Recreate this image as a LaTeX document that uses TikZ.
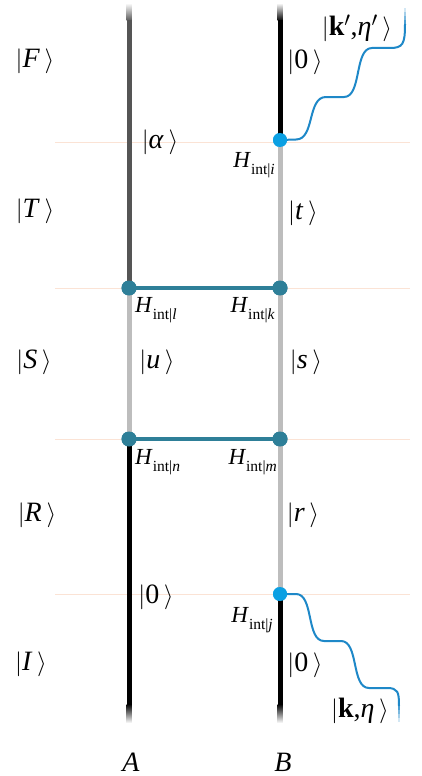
\documentclass[tikz,border=0pt]{standalone}
\usepackage{fontspec}
\setmainfont{Liberation Serif}
\newcommand{\myket}[1]{$|$#1\,$\rangle$}
\newcommand{\myH}[1]{\textit{H}\raisebox{-6.5pt}{\fontsize{15.5}{17}\selectfont int|\textit{#1}}}
\definecolor{teal2}{HTML}{2E7F98}
\definecolor{dotblue}{HTML}{0BA0E3}
\definecolor{wave}{HTML}{1E88C8}
\definecolor{guide}{HTML}{FBE3D5}
\definecolor{darkg}{HTML}{555555}
\definecolor{lightg}{HTML}{BDBDBD}
\begin{document}
\begin{tikzpicture}[x=1pt,y=-1pt,
  ket/.style={inner sep=0pt,font=\fontsize{28}{32}\selectfont},
  hlab/.style={inner sep=0pt,font=\fontsize{23}{26}\selectfont},
  seg/.style={line width=5pt},
  link/.style={line width=3.5pt,draw=teal2},
  tdot/.style={circle,fill=teal2,inner sep=0pt,minimum size=15pt},
  bdot/.style={circle,fill=dotblue,inner sep=0pt,minimum size=14pt},
  wavy/.style={line width=2pt,draw=wave},
  guideline/.style={line width=1pt,draw=guide}]
\useasboundingbox[fill=white] (0,0) rectangle (422,776);
% guide lines
\foreach \yy in {142,288,439,594}{\draw[guideline] (55,\yy) -- (410,\yy);}
% coordinates
\coordinate (Atop) at (129,20);
\coordinate (Abot) at (129,705);
\coordinate (Btop) at (280,20);
\coordinate (Bbot) at (280,705);
\node[tdot] (dAl) at (129,288) {};
\node[tdot] (dBk) at (280,288) {};
\node[tdot] (dAn) at (129,439) {};
\node[tdot] (dBm) at (280,439) {};
\node[bdot] (dBi) at (280,140) {};
\node[bdot] (dBj) at (280,594) {};
% fades at ends
\shade[top color=white,bottom color=darkg] (126.5,3) rectangle (131.5,21);
\shade[top color=white,bottom color=black] (277.5,3) rectangle (282.5,21);
\shade[top color=black,bottom color=white] (126.5,704) rectangle (131.5,723);
\shade[top color=black,bottom color=white] (277.5,704) rectangle (282.5,723);
% vertical lines
\draw[seg,darkg] (Atop) -- (dAl.center);
\draw[seg,lightg] (dAl.center) -- (dAn.center);
\draw[seg,black] (dAn.center) -- (Abot);
\draw[seg,black] (Btop) -- (dBi.center);
\draw[seg,lightg] (dBi.center) -- (dBj.center);
\draw[seg,black] (dBj.center) -- (Bbot);
% links
\draw[link] (dAl.center) -- (dBk.center);
\draw[link] (dAn.center) -- (dBm.center);
\node[tdot] at (dAl) {};
\node[tdot] at (dBk) {};
\node[tdot] at (dAn) {};
\node[tdot] at (dBm) {};
% waves
\coordinate (wtop) at (405,24);
\coordinate (wbot) at (399,706);
\draw[wavy] (dBi.center) -- (296,139.5) .. controls (315,139.5) and (307,97) .. (326,97) -- (344,97)
  .. controls (362,97) and (354,48) .. (372,48) -- (390,48) .. controls (403,48) and (405,44) .. (wtop);
\foreach \o/\a/\b in {0.8/24/20,0.6/20/16,0.4/16/12,0.2/12/8}{\draw[line width=2pt,draw=wave,opacity=\o] (405,\a) -- (405,\b);}
\draw[wavy] (dBj.center) -- (296,594) .. controls (314,594) and (306,641) .. (324,641) -- (341,641)
  .. controls (359,641) and (351,688) .. (369,688) -- (387,688) .. controls (398,688) and (399,692) .. (wbot);
\foreach \o/\a/\b in {0.8/706/710,0.6/710/714,0.4/714/718,0.2/718/722}{\draw[line width=2pt,draw=wave,opacity=\o] (399,\a) -- (399,\b);}
\node[bdot] at (dBi) {};
\node[bdot] at (dBj) {};
% labels
\node[ket] (lF) at (35,61) {\myket{\textit{F}}};
\node[ket] (lT) at (35,211) {\myket{\textit{T}}};
\node[ket] (lS) at (34,362) {\myket{\textit{S}}};
\node[ket] (lR) at (37,515) {\myket{\textit{R}}};
\node[ket] (lI) at (31,664) {\myket{\textit{I}}};
\node[ket] (lal) at (160,142) {\myket{\textit{α}}};
\node[ket] (l0t) at (305,62) {\myket{0}};
\node[ket] (lkp) at (357,28) {\myket{\textbf{k}$'$,\textit{η}$'$}};
\node[ket] (lt) at (303,213) {\myket{\textit{t}}};
\node[ket] (lu) at (157,362) {\myket{\textit{u}}};
\node[ket] (ls) at (306,362) {\myket{\textit{s}}};
\node[ket] (lr) at (303,515) {\myket{\textit{r}}};
\node[ket] (l0l) at (156,597) {\myket{0}};
\node[ket] (l0b) at (305,665) {\myket{0}};
\node[ket] (lk) at (360,711) {\myket{\textbf{k},\textit{η}}};
\node[hlab,anchor=east] (Hi) at (275,165) {\myH{i}};
\node[hlab,anchor=west] (Hl) at (135,310) {\myH{l}};
\node[hlab,anchor=east] (Hk) at (275,310) {\myH{k}};
\node[hlab,anchor=west] (Hn) at (135,462) {\myH{n}};
\node[hlab,anchor=east] (Hm) at (277,462) {\myH{m}};
\node[hlab,anchor=east] (Hj) at (273,620) {\myH{j}};
\node[ket] (lA) at (131,762) {\textit{A}};
\node[ket] (lB) at (283,762) {\textit{B}};
\end{tikzpicture}
\end{document}
